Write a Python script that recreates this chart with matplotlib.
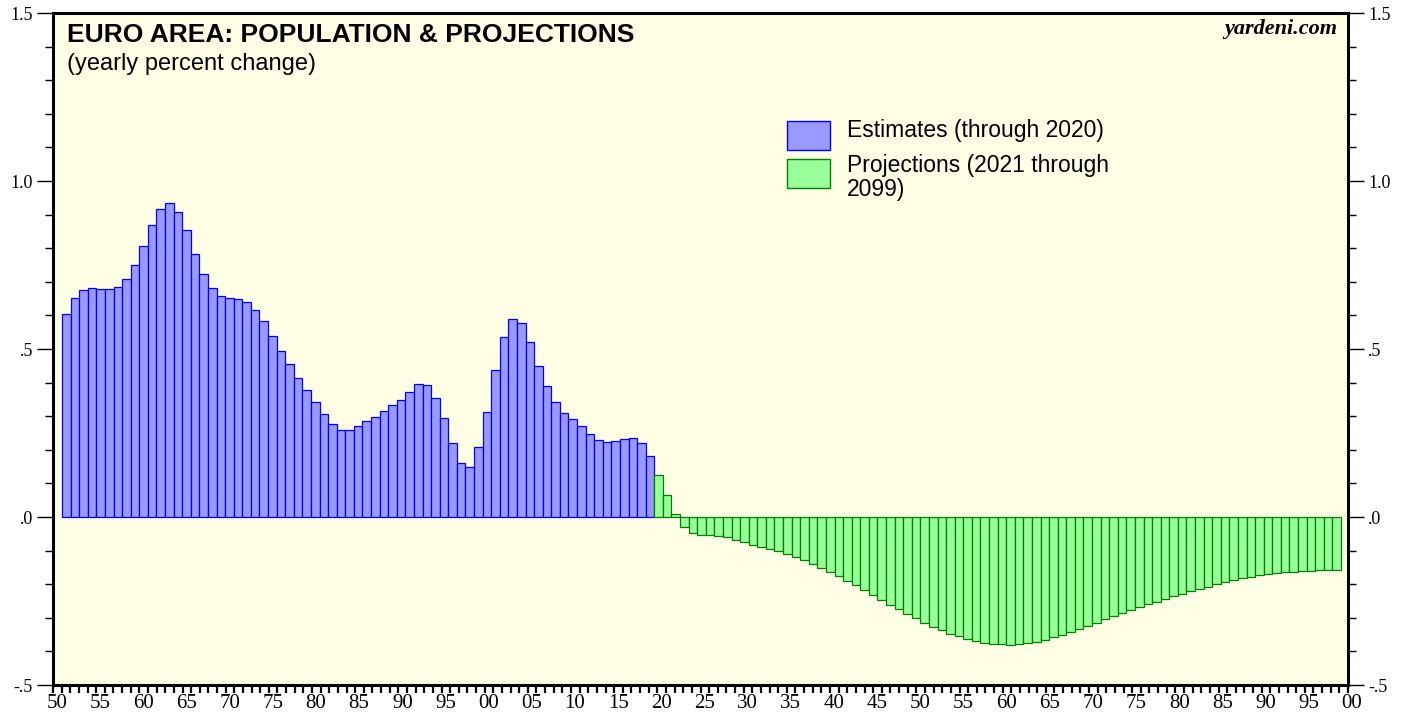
import matplotlib
matplotlib.use("Agg")
import matplotlib.pyplot as plt
import matplotlib.transforms
from matplotlib.patches import Rectangle
from matplotlib.ticker import FixedLocator, MultipleLocator
import numpy as np

# yearly percent change
est_years = list(range(1951, 2020))
est_values = [0.603, 0.653, 0.676, 0.682, 0.680, 0.678, 0.684, 0.707, 0.749, 0.807,
              0.870, 0.918, 0.935, 0.908, 0.853, 0.784, 0.724, 0.681, 0.658, 0.653,
              0.650, 0.639, 0.617, 0.582, 0.538, 0.494, 0.455, 0.414, 0.377, 0.342,
              0.307, 0.278, 0.260, 0.259, 0.272, 0.287, 0.299, 0.314, 0.332, 0.348,
              0.373, 0.395, 0.392, 0.354, 0.296, 0.219, 0.160, 0.150, 0.209, 0.313,
              0.437, 0.535, 0.589, 0.578, 0.520, 0.449, 0.391, 0.342, 0.311, 0.293,
              0.272, 0.246, 0.230, 0.224, 0.225, 0.233, 0.236, 0.221, 0.181]

proj_years = list(range(2020, 2100))
proj_values = [0.126, 0.064, 0.010, -0.030, -0.049, -0.053, -0.053, -0.056, -0.060, -0.067,
               -0.075, -0.082, -0.088, -0.095, -0.102, -0.111, -0.120, -0.129, -0.140, -0.151,
               -0.163, -0.176, -0.189, -0.203, -0.217, -0.232, -0.246, -0.262, -0.275, -0.290,
               -0.302, -0.314, -0.326, -0.337, -0.347, -0.355, -0.363, -0.369, -0.375, -0.378,
               -0.379, -0.380, -0.379, -0.376, -0.371, -0.366, -0.357, -0.350, -0.341, -0.332,
               -0.324, -0.315, -0.305, -0.296, -0.287, -0.278, -0.269, -0.260, -0.252, -0.244,
               -0.236, -0.228, -0.221, -0.214, -0.207, -0.200, -0.194, -0.188, -0.183, -0.178,
               -0.174, -0.170, -0.167, -0.165, -0.163, -0.161, -0.160, -0.159, -0.157, -0.157]

tick_years = list(range(1950, 2101))
y_major = [-0.5, 0.0, 0.5, 1.0, 1.5]
y_labels = ["-.5", ".0", ".5", "1.0", "1.5"]

est_label = "Estimates (through 2020)"
proj_label = "Projections (2021 through\n2099)"

fig = plt.figure(figsize=(14.14, 7.19), dpi=100)
ax = fig.add_axes([53 / 1414, 34 / 719, 1295 / 1414, 672 / 719])
ax.set_facecolor("#ffffe6")

ax.bar(est_years, est_values, width=1, align="edge",
       color="#9999ff", edgecolor="#0000ff", linewidth=0.9)
ax.bar(proj_years, proj_values, width=1, align="edge",
       color="#99ff99", edgecolor="#008000", linewidth=0.9)

x0, x1 = 1949.95, 2100.82
ax.set_xlim(x0, x1)
ax.set_ylim(-0.5, 1.5)

# x ticks: one per year, labels every 5 years
step = (x1 - x0) / 150
tick_pos = [x0 + (y - 1950) * step for y in tick_years]
major_pos = [p for p, y in zip(tick_pos, tick_years) if y % 5 == 0]
major_lab = ["%02d" % (y % 100) for y in tick_years if y % 5 == 0]
ax.xaxis.set_major_locator(FixedLocator(major_pos))
ax.set_xticklabels(major_lab)
ax.xaxis.set_minor_locator(FixedLocator(tick_pos))
ax.tick_params(axis="x", which="both", direction="out", length=5.5, width=1.6,
               labelsize=15, pad=1)

ax.yaxis.set_major_locator(FixedLocator(y_major))
ax.set_yticklabels(y_labels)
ax.yaxis.set_minor_locator(MultipleLocator(0.1))
ax.tick_params(axis="y", which="major", direction="out", length=11.5, width=1.0,
               labelsize=13, left=True, right=True, labelleft=True, labelright=True, pad=3)
ax.tick_params(axis="y", which="minor", direction="out", length=5.5, width=1.0,
               left=True, right=True)

for lab in ax.get_xticklabels() + ax.get_yticklabels():
    lab.set_fontfamily("Liberation Serif")

# year labels sit a little right of their ticks
offset = matplotlib.transforms.ScaledTranslation(4 / 100., 0, fig.dpi_scale_trans)
for lab in ax.xaxis.get_majorticklabels():
    lab.set_transform(lab.get_transform() + offset)

for s in ax.spines.values():
    s.set_linewidth(2.2)

ax.text(0.011, 0.957, "EURO AREA: POPULATION & PROJECTIONS", transform=ax.transAxes,
        fontfamily="Liberation Sans", fontweight="bold", fontsize=19, va="baseline")
ax.text(0.011, 0.915, "(yearly percent change)", transform=ax.transAxes,
        fontfamily="Liberation Sans", fontsize=17, va="baseline")
ax.text(0.992, 0.969, "yardeni.com", transform=ax.transAxes, ha="right",
        fontfamily="Liberation Serif", fontweight="bold", fontstyle="italic",
        fontsize=16, va="baseline")

# legend boxes
ax.add_patch(Rectangle((0.5668, 0.7961), 0.0332, 0.0432, transform=ax.transAxes,
                       facecolor="#9999ff", edgecolor="#0000ff", linewidth=1.0))
ax.add_patch(Rectangle((0.5668, 0.7396), 0.0332, 0.0431, transform=ax.transAxes,
                       facecolor="#99ff99", edgecolor="#008000", linewidth=1.0))
ax.text(0.6131, 0.8155, est_label, transform=ax.transAxes,
        fontfamily="Liberation Sans", fontsize=16.5, va="baseline")
ax.text(0.6131, 0.727, proj_label, transform=ax.transAxes,
        fontfamily="Liberation Sans", fontsize=16.5, va="baseline", linespacing=1.1)

fig.savefig("out.png", dpi=100)
